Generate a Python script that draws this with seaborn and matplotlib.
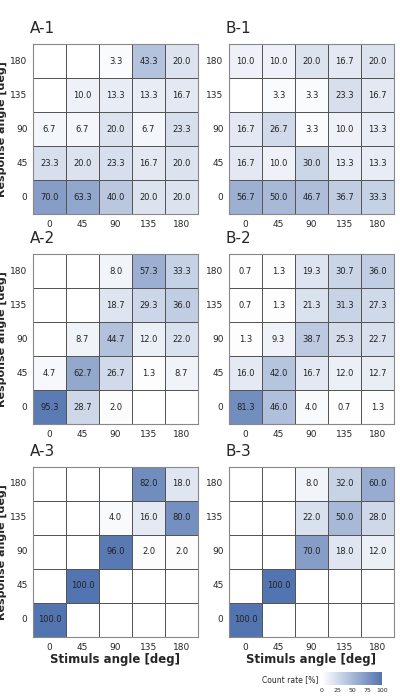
import numpy as np
import matplotlib
matplotlib.use("Agg")
import matplotlib.pyplot as plt
import seaborn as sns
from matplotlib.colors import LinearSegmentedColormap

stim = [0, 45, 90, 135, 180]
resp = [180, 135, 90, 45, 0]  # rows top to bottom

A1 = [[0, 0, 3.3, 43.3, 20.0],
      [0, 10.0, 13.3, 13.3, 16.7],
      [6.7, 6.7, 20.0, 6.7, 23.3],
      [23.3, 20.0, 23.3, 16.7, 20.0],
      [70.0, 63.3, 40.0, 20.0, 20.0]]
B1 = [[10.0, 10.0, 20.0, 16.7, 20.0],
      [0, 3.3, 3.3, 23.3, 16.7],
      [16.7, 26.7, 3.3, 10.0, 13.3],
      [16.7, 10.0, 30.0, 13.3, 13.3],
      [56.7, 50.0, 46.7, 36.7, 33.3]]
A2 = [[0, 0, 8.0, 57.3, 33.3],
      [0, 0, 18.7, 29.3, 36.0],
      [0, 8.7, 44.7, 12.0, 22.0],
      [4.7, 62.7, 26.7, 1.3, 8.7],
      [95.3, 28.7, 2.0, 0, 0]]
B2 = [[0.7, 1.3, 19.3, 30.7, 36.0],
      [0.7, 1.3, 21.3, 31.3, 27.3],
      [1.3, 9.3, 38.7, 25.3, 22.7],
      [16.0, 42.0, 16.7, 12.0, 12.7],
      [81.3, 46.0, 4.0, 0.7, 1.3]]
A3 = [[0, 0, 0, 82.0, 18.0],
      [0, 0, 4.0, 16.0, 80.0],
      [0, 0, 96.0, 2.0, 2.0],
      [0, 100.0, 0, 0, 0],
      [100.0, 0, 0, 0, 0]]
B3 = [[0, 0, 8.0, 32.0, 60.0],
      [0, 0, 22.0, 50.0, 28.0],
      [0, 0, 70.0, 18.0, 12.0],
      [0, 100.0, 0, 0, 0],
      [100.0, 0, 0, 0, 0]]

panels = [("A-1", A1), ("B-1", B1), ("A-2", A2), ("B-2", B2), ("A-3", A3), ("B-3", B3)]

sns.set_theme(style="white")
cmap = LinearSegmentedColormap.from_list("wb", ["#ffffff", "#5274b0"])
fig = plt.figure(figsize=(4, 7), dpi=100)

lefts = [33/400, 229/400]
tops = [44, 254, 467]
w = 165/400
h = 170/700
for i, (name, data) in enumerate(panels):
    r, c = divmod(i, 2)
    ax = fig.add_axes([lefts[c], 1 - (tops[r] + 170)/700, w, h])
    arr = np.array(data)
    annot = np.array([["" if v == 0 else f"{v:.1f}" for v in row] for row in arr])
    sns.heatmap(arr, ax=ax, cmap=cmap, vmin=0, vmax=100, annot=annot, fmt="",
                annot_kws={"size": 6, "color": "#222"}, linewidths=0.6,
                linecolor="#555", cbar=False, xticklabels=stim, yticklabels=resp)
    ax.tick_params(labelsize=6.5, length=0, pad=4)
    ax.set_yticklabels(resp, rotation=0)
    for s in ax.spines.values():
        s.set_visible(True); s.set_color("#888"); s.set_linewidth(0.8)
    ax.set_title(name, loc="left", fontsize=11, pad=8, x=-0.02)
    if c == 0:
        ax.set_ylabel("Response angle [deg]", fontsize=8, fontweight="bold", labelpad=2)
    if r == 2:
        ax.set_xlabel("Stimuls angle [deg]", fontsize=8.5, fontweight="bold", labelpad=1)

cax = fig.add_axes([322/400, 1 - 685/700, 60/400, 13/700])
sm = plt.cm.ScalarMappable(cmap=cmap, norm=plt.Normalize(0, 100))
cb = fig.colorbar(sm, cax=cax, orientation="horizontal", ticks=[0, 25, 50, 75, 100])
cb.outline.set_visible(False)
cax.tick_params(labelsize=4.5, length=0, pad=2)
fig.text(318/400, 1 - 680/700, "Count rate [%]", ha="right", va="center", fontsize=5.5)
fig.savefig("out.png", dpi=100)
